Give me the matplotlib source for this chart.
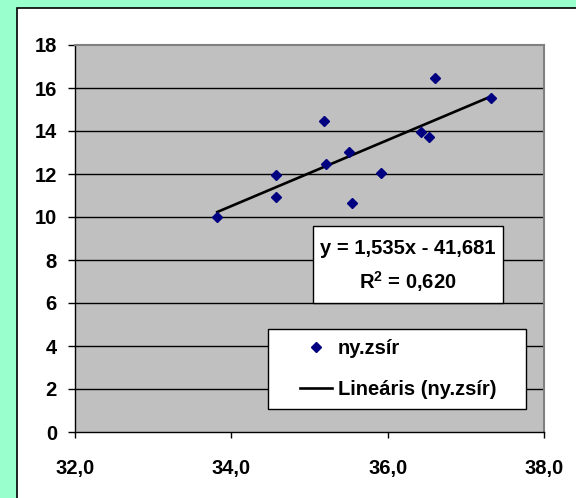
import numpy as np
import matplotlib
matplotlib.use("Agg")
import matplotlib.pyplot as plt
from matplotlib.patches import Rectangle
from matplotlib.lines import Line2D

# adatok (leolvasva)
x_vals = [33.82, 34.57, 34.57, 35.18, 35.21, 35.50, 35.55, 35.91, 36.43, 36.53, 36.60, 37.32]
y_vals = [10.0, 11.95, 10.95, 14.45, 12.45, 13.0, 10.65, 12.05, 13.95, 13.7, 16.45, 15.55]
slope = 1.535
intercept = -41.681
r2 = 0.620
y_ticks = [0, 2, 4, 6, 8, 10, 12, 14, 16, 18]
x_ticks = [32.0, 34.0, 36.0, 38.0]

plt.rcParams['font.family'] = ['Liberation Sans', 'DejaVu Sans']
plt.rcParams['font.weight'] = 'bold'
plt.rcParams['font.size'] = 14.5
plt.rcParams['mathtext.fontset'] = 'custom'
plt.rcParams['mathtext.rm'] = 'Liberation Sans:bold'
plt.rcParams['mathtext.bf'] = 'Liberation Sans:bold'

def fmt(v, nd):
    return f"{v:.{nd}f}".replace('.', ',')

fig = plt.figure(figsize=(5.76, 4.98), dpi=100, facecolor='#99FFCC')
# feher diagramterulet
fig.patches.append(Rectangle((17 / 576, -0.05), 1.2, 0.05 + 490 / 498, transform=fig.transFigure,
                             facecolor='white', edgecolor='black', linewidth=1.2, zorder=-1))

ax = fig.add_axes([75 / 576, 66 / 498, 469 / 576, 387 / 498])
ax.set_facecolor('#C0C0C0')
ax.set_xlim(32, 38)
ax.set_ylim(0, 18)

for y in y_ticks[1:-1]:
    ax.axhline(y, color='black', linewidth=1, zorder=1)

ax.plot(x_vals, y_vals, linestyle='none', marker='D', markersize=5.4,
        color='#000080', zorder=3)
xl = np.array([min(x_vals), max(x_vals)])
ax.plot(xl, slope * xl + intercept, color='black', linewidth=1.9, zorder=2)

ax.set_yticks(y_ticks)
ax.set_yticklabels([str(t) for t in y_ticks])
ax.set_xticks(x_ticks)
ax.set_xticklabels([fmt(t, 1) for t in x_ticks])
ax.tick_params(axis='y', direction='out', length=5, width=1, pad=8)
ax.tick_params(axis='x', direction='out', length=4.5, width=1, pad=15)

for s in ['top', 'right']:
    ax.spines[s].set_color('#808080')
    ax.spines[s].set_linewidth(1.5)
for s in ['left', 'bottom']:
    ax.spines[s].set_color('black')
    ax.spines[s].set_linewidth(1)

# egyenlet doboz
ax.add_patch(Rectangle((0.5075, 0.333), 0.4051, 0.199, transform=ax.transAxes,
                       facecolor='white', edgecolor='black', linewidth=1, zorder=4))
ax.text(0.710, 0.475, f"y = {fmt(slope, 3)}x - {fmt(abs(intercept), 3)}", transform=ax.transAxes,
        ha='center', va='center', zorder=5)
ax.text(0.710, 0.388, f"R$^{{2}}$ = {fmt(r2, 3)}", transform=ax.transAxes,
        ha='center', va='center', zorder=5)

# jelmagyarazat
ax.add_patch(Rectangle((0.4115, 0.0594), 0.5501, 0.2066, transform=ax.transAxes,
                       facecolor='white', edgecolor='black', linewidth=1, zorder=4))
handles = [Line2D([], [], linestyle='none', marker='D', markersize=5.0, color='#000080'),
           Line2D([], [], color='black', linewidth=1.9)]
leg = ax.legend(handles, ['ny.zsír', 'Lineáris (ny.zsír)'], loc='center',
                bbox_to_anchor=(0.689, 0.163), frameon=False, handlelength=1.6,
                handletextpad=0.3, labelspacing=1.1, borderpad=0.2)
leg.set_zorder(5)

fig.savefig('out.png', dpi=100, facecolor=fig.get_facecolor())
